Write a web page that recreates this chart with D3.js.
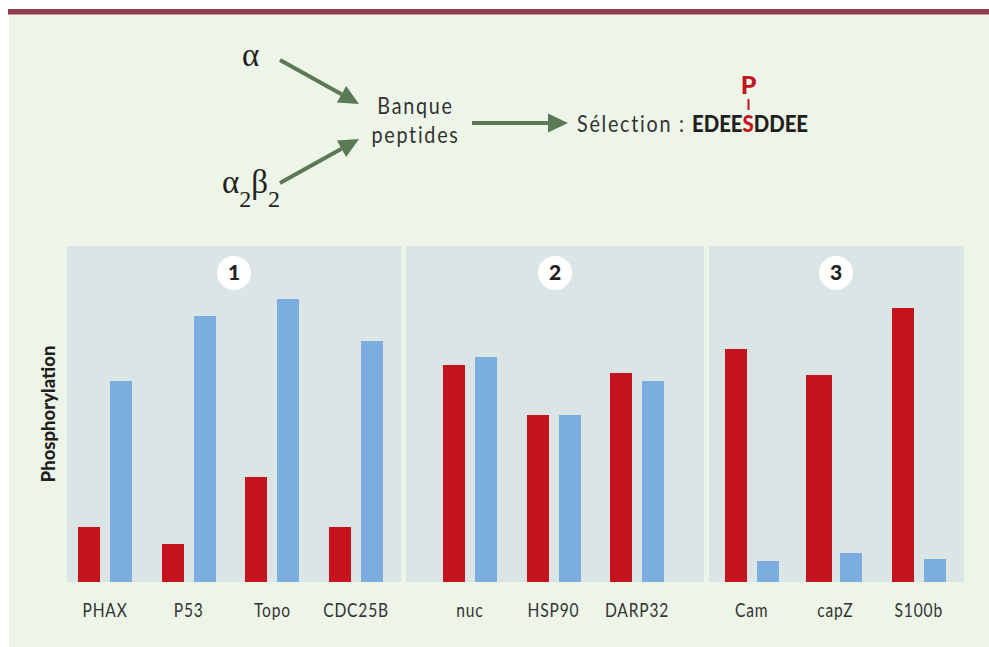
<!DOCTYPE html>
<html>
<head>
<meta charset="utf-8">
<script src="https://cdn.jsdelivr.net/npm/d3@7"></script>
<style>
  html, body { margin: 0; padding: 0; background: #fff; }
  svg { display: block; }
</style>
</head>
<body>
<div id="chart"></div>
<script>
// categories per panel
const panelNames = ['1', '2', '3'];
const panel1Cats = ['PHAX', 'P53', 'Topo', 'CDC25B'];
const panel2Cats = ['nuc', 'HSP90', 'DARP32'];
const panel3Cats = ['Cam', 'capZ', 'S100b'];

// phosphorylation, 0-100 = panel height
const alphaValues = [16.4, 11.3, 31.3, 16.4, 64.6, 49.7, 62.2, 69.3, 61.6, 81.5];
const alpha2beta2Values = [59.8, 79.2, 84.2, 71.7, 67.0, 49.7, 59.8, 6.3, 8.6, 6.8];

const width = 989;
const height = 647;
const plotTop = 246;
const plotBottom = 582;
const barWidth = 22;

const colors = {
  page: '#edf5e8',
  rule: '#8f3c4c',
  panel: '#dce5e6',
  alpha: '#c4131c',
  beta: '#7baede',
  arrow: '#5a7a55',
  text: '#333',
};

const svg = d3.select('#chart')
  .append('svg')
  .attr('width', width)
  .attr('height', height);

svg.append('rect')
  .attr('x', 9).attr('y', 9)
  .attr('width', width - 9).attr('height', height - 9)
  .attr('fill', colors.page);

svg.append('rect')
  .attr('x', 8).attr('y', 9)
  .attr('width', width - 8).attr('height', 5.5)
  .attr('fill', colors.rule);

const y = d3.scaleLinear().domain([0, 100]).range([plotBottom, plotTop]);

// panel box, band range and circle position
const panels = [
  { name: panelNames[0], cats: panel1Cats, box: [67, 401], band: [63.2, 397.9], badge: 234 },
  { name: panelNames[1], cats: panel2Cats, box: [406, 704], band: [428.25, 678.75], badge: 555 },
  { name: panelNames[2], cats: panel3Cats, box: [709, 964], band: [710, 960.5], badge: 836 },
];

let offset = 0;
panels.forEach((p) => {
  const g = svg.append('g');

  g.append('rect')
    .attr('x', p.box[0])
    .attr('y', plotTop)
    .attr('width', p.box[1] - p.box[0])
    .attr('height', plotBottom - plotTop)
    .attr('fill', colors.panel);

  const x = d3.scaleBand().domain(p.cats).range(p.band);
  const rows = p.cats.map((cat, i) => ({
    cat,
    a: alphaValues[offset + i],
    b: alpha2beta2Values[offset + i],
  }));
  offset += p.cats.length;

  const center = (d) => Math.round(x(d.cat) + x.bandwidth() / 2);

  // capZ red bar is wider than the others in the original
  g.selectAll('.bar-a')
    .data(rows)
    .join('rect')
    .attr('class', 'bar-a')
    .attr('x', (d) => (d.cat === 'capZ' ? center(d) - 29 : center(d) - 5 - barWidth))
    .attr('y', (d) => Math.round(y(d.a)))
    .attr('width', (d) => (d.cat === 'capZ' ? 26 : barWidth))
    .attr('height', (d) => plotBottom - Math.round(y(d.a)))
    .attr('fill', colors.alpha);

  g.selectAll('.bar-b')
    .data(rows)
    .join('rect')
    .attr('class', 'bar-b')
    .attr('x', (d) => center(d) + 5)
    .attr('y', (d) => Math.round(y(d.b)))
    .attr('width', barWidth)
    .attr('height', (d) => plotBottom - Math.round(y(d.b)))
    .attr('fill', colors.beta);

  const axis = g.append('g')
    .attr('transform', `translate(0,${plotBottom})`)
    .call(d3.axisBottom(x).tickSize(0).tickPadding(22));
  axis.select('.domain').remove();
  // no condensed face installed, so squeeze the text horizontally
  axis.selectAll('text')
    .attr('font-family', 'Lato, sans-serif')
    .attr('font-size', 19)
    .attr('transform', 'scale(0.82,1)')
    .attr('letter-spacing', 1)
    .attr('fill', colors.text);

  g.append('circle')
    .attr('cx', p.badge)
    .attr('cy', 273)
    .attr('r', 17)
    .attr('fill', '#fff');

  g.append('text')
    .attr('x', p.badge)
    .attr('y', 280)
    .attr('text-anchor', 'middle')
    .attr('font-family', 'Lato, sans-serif')
    .attr('font-weight', 900)
    .attr('font-size', 21)
    .attr('fill', '#231f20')
    .text(p.name);
});

// y axis title
svg.append('text')
  .attr('transform', `translate(55,${y(50)}) rotate(-90)`)
  .attr('text-anchor', 'middle')
  .attr('font-family', 'Lato, sans-serif')
  .attr('font-weight', 900)
  .attr('font-size', 18.5)
  .attr('fill', '#231f20')
  .text('Phosphorylation');

// top diagram
const arrows = [
  [[280, 60], [359, 104]],
  [[280, 183], [359, 139]],
  [[472, 123], [568, 123]],
];

const headLength = 20;
const headHalf = 9.5;
arrows.forEach(([from, to]) => {
  const angle = Math.atan2(to[1] - from[1], to[0] - from[0]);
  const ux = Math.cos(angle);
  const uy = Math.sin(angle);
  const bx = to[0] - ux * headLength;
  const by = to[1] - uy * headLength;

  svg.append('line')
    .attr('x1', from[0]).attr('y1', from[1])
    .attr('x2', bx).attr('y2', by)
    .attr('stroke', colors.arrow)
    .attr('stroke-width', 4);

  svg.append('path')
    .attr('d', d3.line()([
      to,
      [bx - uy * headHalf, by + ux * headHalf],
      [bx + uy * headHalf, by - ux * headHalf],
    ]) + 'Z')
    .attr('fill', colors.arrow);
});

const serif = '"Liberation Serif", serif';

svg.append('text')
  .attr('x', 242).attr('y', 66)
  .attr('font-family', serif)
  .attr('font-size', 33)
  .attr('fill', '#231f20')
  .text('α');

const ab = svg.append('text')
  .attr('x', 222).attr('y', 193)
  .attr('font-family', serif)
  .attr('font-size', 33)
  .attr('fill', '#231f20');
ab.append('tspan').text('α');
ab.append('tspan').attr('dy', 14).attr('font-size', 24).text('2');
ab.append('tspan').attr('dy', -14).text('β');
ab.append('tspan').attr('dy', 14).attr('font-size', 24).text('2');

const label = (txt, xPos, yPos, anchor = 'middle') => svg.append('text')
  .attr('transform', `translate(${xPos},${yPos}) scale(0.86,1)`)
  .attr('text-anchor', anchor)
  .attr('font-family', 'Lato, sans-serif')
  .attr('font-size', 23)
  .attr('letter-spacing', 2)
  .attr('fill', colors.text)
  .text(txt);

label('Banque', 415.5, 114);
label('peptides', 415.5, 143);
label('Sélection :', 577, 132, 'start');

const seq = svg.append('text')
  .attr('transform', 'translate(692,132) scale(0.885,1)')
  .attr('font-family', 'Lato, sans-serif')
  .attr('font-weight', 900)
  .attr('font-size', 23)
  .attr('fill', '#231f20');
seq.append('tspan').text('EDEE');
seq.append('tspan').attr('fill', colors.alpha).text('S');
seq.append('tspan').text('DDEE');

svg.append('text')
  .attr('x', 748.5).attr('y', 94)
  .attr('text-anchor', 'middle')
  .attr('font-family', 'Lato, sans-serif')
  .attr('font-weight', 900)
  .attr('font-size', 25)
  .attr('fill', colors.alpha)
  .text('P');

svg.append('line')
  .attr('x1', 748.5).attr('x2', 748.5)
  .attr('y1', 99).attr('y2', 110)
  .attr('stroke', colors.alpha)
  .attr('stroke-width', 2);
</script>
</body>
</html>
